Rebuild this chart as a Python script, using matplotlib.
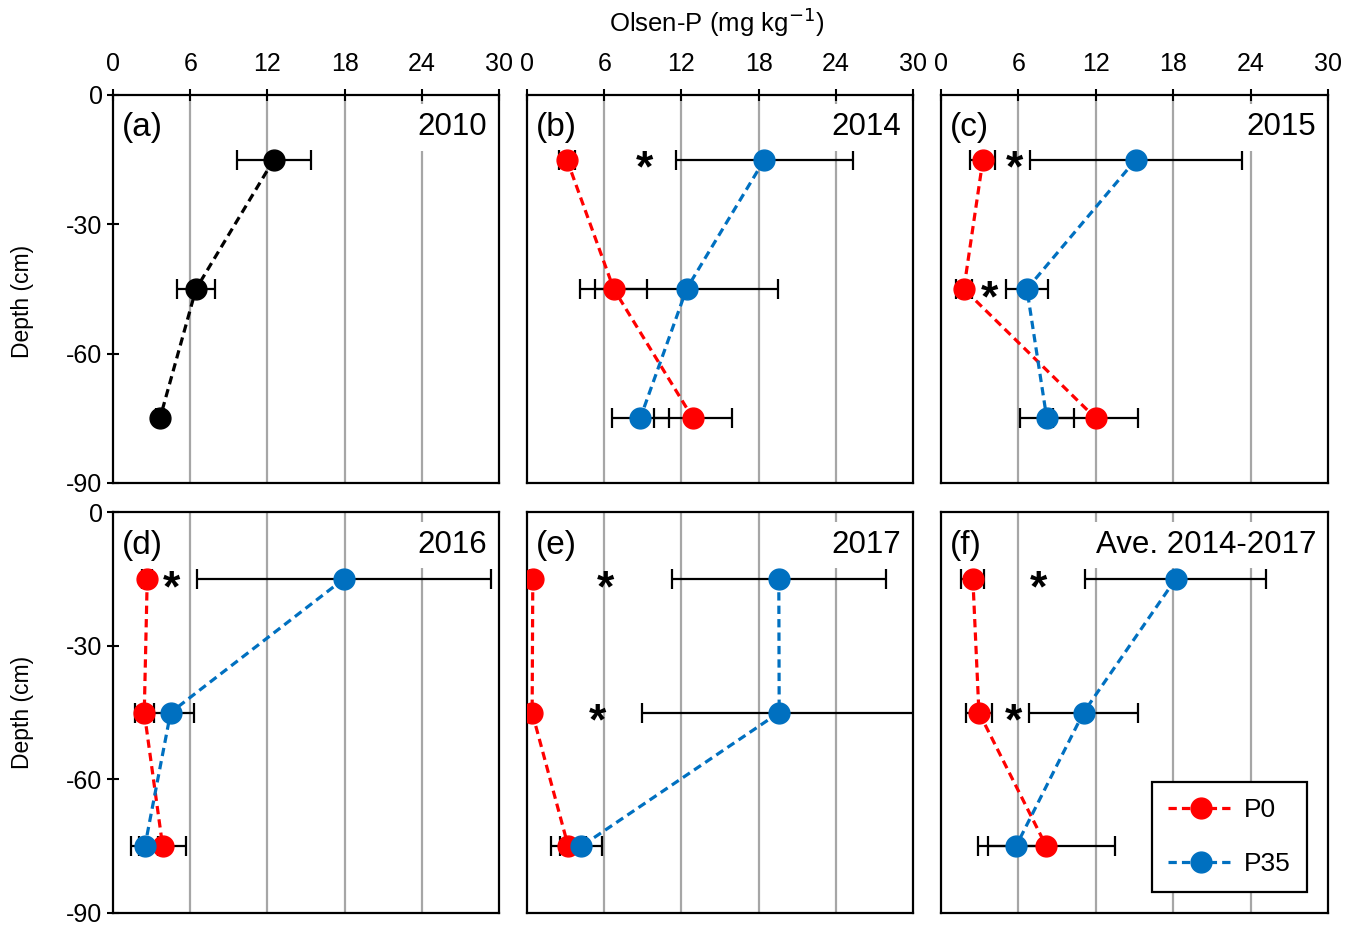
import matplotlib
matplotlib.use("Agg")
import matplotlib.pyplot as plt
from matplotlib.lines import Line2D
from matplotlib.transforms import ScaledTranslation

plt.rcParams["font.family"] = ["Liberation Sans", "DejaVu Sans"]
plt.rcParams["axes.unicode_minus"] = False

# Sampling depths (cm)
depth = [-15, -45, -75]

# Olsen-P (mg/kg): means and error bars
a_mean = [12.5, 6.45, 3.65]
a_err = [2.9, 1.5, 0.3]

b_p0 = [3.1, 6.74, 12.9]
b_p0_err = [0.6, 2.6, 3.0]
b_p35 = [18.45, 12.4, 8.8]
b_p35_err = [6.9, 7.1, 2.2]

c_p0 = [3.25, 1.77, 12.0]
c_p0_err = [0.97, 0.6, 3.3]
c_p35 = [15.1, 6.66, 8.2]
c_p35_err = [8.2, 1.6, 2.1]

d_p0 = [2.66, 2.43, 3.86]
d_p0_err = [0.4, 0.73, 1.83]
d_p35 = [17.95, 4.48, 2.48]
d_p35_err = [11.4, 1.83, 1.05]

e_p0 = [0.45, 0.4, 3.2]
e_p0_err = [0.2, 0.2, 1.37]
e_p35 = [19.57, 19.6, 4.23]
e_p35_err = [8.3, 10.7, 1.63]

f_p0 = [2.47, 2.94, 8.16]
f_p0_err = [0.9, 1.0, 5.3]
f_p35 = [18.2, 11.05, 5.82]
f_p35_err = [7.0, 4.2, 2.2]

# Significance markers (x, depth)
b_stars = [(9.1, -15)]
c_stars = [(5.67, -15), (3.74, -45)]
d_stars = [(4.54, -15)]
e_stars = [(6.1, -15), (5.5, -45)]
f_stars = [(7.54, -15), (5.59, -45)]

panel_tags = ["(a)", "(b)", "(c)", "(d)", "(e)", "(f)"]
years = ["2010", "2014", "2015", "2016", "2017", "Ave. 2014-2017"]
x_ticks = [0, 6, 12, 18, 24, 30]
y_ticks = [0, -30, -60, -90]
series_names = ["P0", "P35"]

RED = "#FF0000"
BLUE = "#0070C0"
GRID = "#A6A6A6"
LW = 2.3
DASH = (2.6, 1.6)
MS = 15

W, H = 1357, 925
fig = plt.figure(figsize=(W / 100, H / 100), dpi=100)

cols = [(113, 499), (527, 913), (941, 1328)]
rows = [(95, 483), (512, 913)]


def make_axes(r, c):
    x0, x1 = cols[c]
    y0, y1 = rows[r]
    return fig.add_axes([x0 / W, 1 - y1 / H, (x1 - x0) / W, (y1 - y0) / H])


def style(ax, r, c):
    ax.set_xlim(0, 30)
    ax.set_ylim(-90, 0)
    for s in ax.spines.values():
        s.set_linewidth(1.6)
        s.set_color("black")
    for g in x_ticks[1:-1]:
        ax.axvline(g, color=GRID, lw=1.6, zorder=0)
    ax.xaxis.set_ticks_position("top")
    ax.set_xticks(x_ticks)
    if r == 0:
        ax.set_xticklabels([str(t) for t in x_ticks])
        ax.tick_params(axis="x", direction="inout", length=9, width=1.5,
                       labelsize=18, pad=9)
    else:
        ax.set_xticklabels([])
        ax.tick_params(axis="x", length=0)
    ax.set_yticks(y_ticks)
    if c == 0:
        ax.set_yticklabels([str(t) for t in y_ticks])
        ax.tick_params(axis="y", direction="inout", length=9, width=1.5,
                       labelsize=18, pad=3)
        ax.set_ylabel("Depth (cm)", fontsize=16.5)
        ax.yaxis.set_label_coords(-0.205, 0.467 if r == 0 else 0.5)
    else:
        ax.set_yticklabels([])
        ax.tick_params(axis="y", length=0)


def label(ax, tag, year):
    ax.text(0.022, 0.955, tag, transform=ax.transAxes, fontsize=24,
            ha="left", va="top", zorder=5)
    ax.text(0.97, 0.955, year, transform=ax.transAxes, fontsize=22.5,
            ha="right", va="top", zorder=5,
            bbox=dict(facecolor="white", edgecolor="none", pad=6))


def series(ax, x, err, color):
    ax.errorbar(x, depth, xerr=err, fmt="none", ecolor="black",
                elinewidth=1.6, capsize=7, capthick=1.6, zorder=2)
    ax.plot(x, depth, color=color, lw=LW, dashes=DASH,
            marker="o", ms=MS, mec=color, mfc=color, zorder=3)


def stars(ax, pts):
    # shift baseline down so the asterisk glyph is centred on the depth
    shift = ScaledTranslation(0, -16 / 72, fig.dpi_scale_trans)
    for sx, sy in pts:
        ax.text(sx, sy, "*", fontsize=32, fontweight="bold", ha="center",
                va="baseline", transform=ax.transData + shift, zorder=4)


panels = [
    (0, 0, None),
    (0, 1, (b_p0, b_p0_err, b_p35, b_p35_err, b_stars)),
    (0, 2, (c_p0, c_p0_err, c_p35, c_p35_err, c_stars)),
    (1, 0, (d_p0, d_p0_err, d_p35, d_p35_err, d_stars)),
    (1, 1, (e_p0, e_p0_err, e_p35, e_p35_err, e_stars)),
    (1, 2, (f_p0, f_p0_err, f_p35, f_p35_err, f_stars)),
]

for i, (r, c, data) in enumerate(panels):
    ax = make_axes(r, c)
    style(ax, r, c)
    label(ax, panel_tags[i], years[i])
    if data is None:
        series(ax, a_mean, a_err, "black")
    else:
        p0, p0e, p35, p35e, st = data
        series(ax, p0, p0e, RED)
        series(ax, p35, p35e, BLUE)
        stars(ax, st)
    if i == 5:
        handles = [
            Line2D([], [], color=RED, lw=LW, dashes=DASH, marker="o",
                   ms=MS, mfc=RED, mec=RED),
            Line2D([], [], color=BLUE, lw=LW, dashes=DASH, marker="o",
                   ms=MS, mfc=BLUE, mec=BLUE),
        ]
        leg = ax.legend(handles, series_names, loc="lower left",
                        bbox_to_anchor=(0.545, 0.052), borderaxespad=0,
                        fontsize=19, frameon=True, fancybox=False,
                        framealpha=1, edgecolor="black", handlelength=2.5,
                        labelspacing=1.15, borderpad=0.6, handletextpad=0.4)
        leg.get_frame().set_linewidth(1.6)
        leg.set_zorder(6)

# Shared x-axis title centred over the middle column
fig.text(717 / W, 1 - 22 / H, "Olsen-P (mg kg$^{-1}$)", fontsize=18.5,
         ha="center", va="center")

fig.savefig("out.png", dpi=100)
